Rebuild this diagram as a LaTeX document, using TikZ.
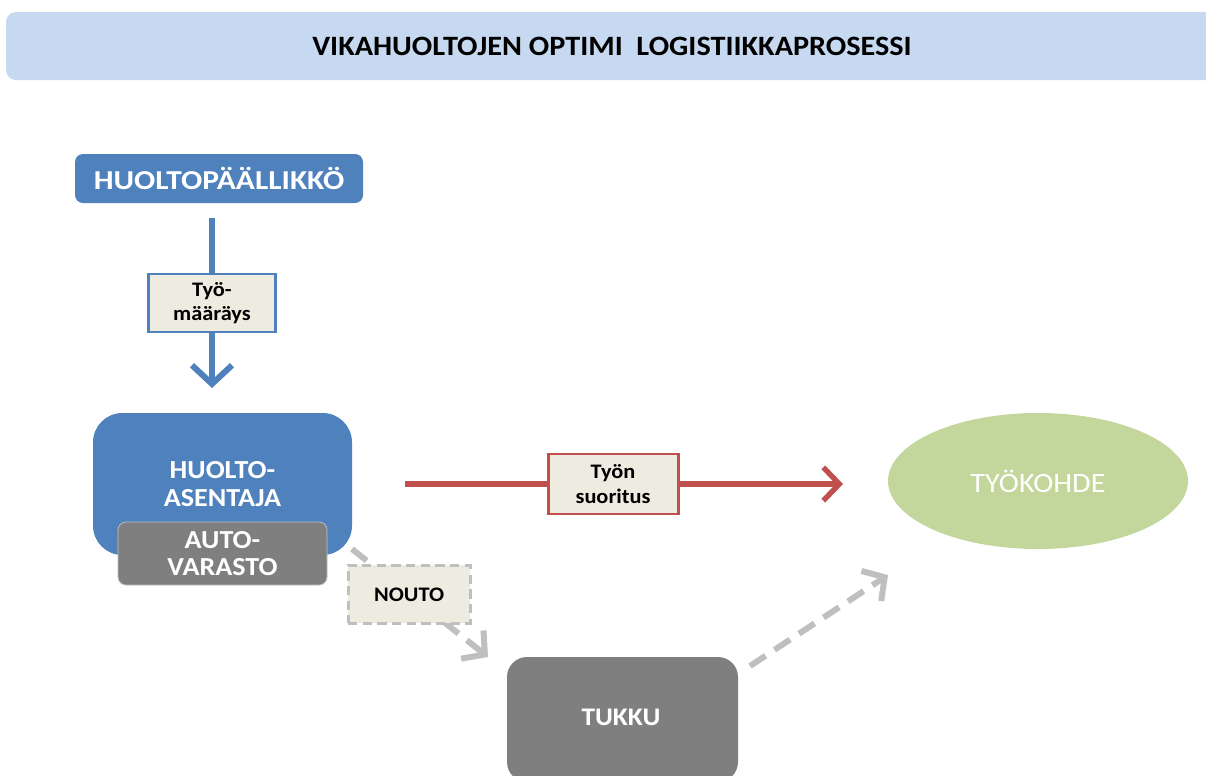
\documentclass[tikz,border=0pt]{standalone}
\usepackage{fontspec}
\setmainfont{Carlito}
\newfontfamily\widesans[FakeStretch=1.08]{Carlito}
\newfontfamily\widersans[FakeStretch=1.15]{Carlito}
\usetikzlibrary{arrows.meta,shapes.geometric}

\definecolor{titlebg}{HTML}{C6D9F1}
\definecolor{mainblue}{HTML}{4F81BD}
\definecolor{boxgray}{HTML}{7F7F7F}
\definecolor{labelbg}{HTML}{EEECE1}
\definecolor{workred}{HTML}{C0504D}
\definecolor{sitegreen}{HTML}{C3D69B}
\definecolor{pickgray}{HTML}{BFBFBF}

\begin{document}
\begin{tikzpicture}[x=0.75pt,y=-0.75pt,
  titlebar/.style={fill=titlebg, rounded corners=7.5pt, minimum width=909pt, minimum height=51pt,
    inner sep=0pt, font=\widesans\fontsize{21}{24}\selectfont\bfseries, text=black},
  actor/.style={fill=mainblue, text=white, inner sep=0pt, align=center,
    font=\widesans\fontsize{19.5}{20.5}\selectfont\bfseries},
  store/.style={fill=boxgray, text=white, inner sep=0pt, align=center,
    font=\widesans\fontsize{19.5}{20.5}\selectfont\bfseries},
  target/.style={ellipse, fill=sitegreen, text=white, inner sep=0pt,
    minimum width=225pt, minimum height=102pt, font=\widesans\fontsize{21}{24}\selectfont},
  tag/.style={fill=labelbg, line width=2.2pt, inner sep=0pt, align=center, text=black,
    font=\widesans\fontsize{15.5}{18.5}\selectfont\bfseries},
  orderflow/.style={draw=mainblue, line width=4.5pt,
    -{Straight Barb[length=14pt,width=30pt]}},
  workflow/.style={draw=workred, line width=4pt,
    -{Straight Barb[length=12pt,width=25pt]}},
  pickflow/.style={draw=pickgray, line width=4.5pt, dash pattern=on 14pt off 8pt,
    -{Straight Barb[length=12pt,width=27pt]}}
]
\useasboundingbox (0,0) rectangle (1206,775);

% header bar
\node[titlebar] (title) at (612,46) {VIKAHUOLTOJEN OPTIMI\ \ LOGISTIIKKAPROSESSI};

% actors and places
\node[actor, rounded corners=6pt, minimum width=216pt, minimum height=36.75pt,
  font=\widersans\fontsize{20.5}{22}\selectfont\bfseries]
  (manager) at (219,178.5) {HUOLTOPÄÄLLIKKÖ};
\node[actor, rounded corners=22pt, minimum width=194.25pt, minimum height=106.5pt]
  (fitter) at (222.5,484) {HUOLTO-\\ASENTAJA};
\node[store, draw=pickgray, line width=0.6pt, rounded corners=6pt,
  minimum width=156.75pt, minimum height=47.25pt]
  (vanstock) at (222.5,553.5) {AUTO-\\VARASTO};
\node[store, rounded corners=15pt, minimum width=173.25pt, minimum height=93.75pt]
  (wholesale) at (622.5,719.5) {};
\node[text=white, font=\widesans\fontsize{19}{20.5}\selectfont\bfseries] (wholesaletext) at (621,717) {TUKKU};
\node[target] (site) at (1038,481) {TYÖKOHDE};

% arrow end points
\coordinate (orderstart) at (212,218);
\coordinate (orderend) at (212,388);
\coordinate (workstart) at (405,484);
\coordinate (workend) at (843,484);
\coordinate (pickstart) at (352,549);
\coordinate (pickend) at (488,657);
\coordinate (deliverstart) at (750,666);
\coordinate (deliverend) at (888,575);

% work order
\draw[orderflow] (orderstart) -- node[tag, draw=mainblue, minimum width=95.25pt, minimum height=43.5pt]
  (ordertag) {Työ-\\määräys} (orderend);

% job execution
\draw[workflow] (workstart) -- node[tag, draw=workred, pos=0.475, minimum width=97.5pt, minimum height=45pt]
  (worktag) {Työn\\suoritus} (workend);

% pick-up from wholesale
\draw[pickflow] (pickstart) -- node[tag, draw=pickgray, dash pattern=on 7pt off 4pt, pos=0.42,
  minimum width=91.5pt, minimum height=43.5pt] (picktag) {NOUTO} (pickend);

% delivery to site
\draw[pickflow] (deliverstart) -- (deliverend);

\end{tikzpicture}
\end{document}
